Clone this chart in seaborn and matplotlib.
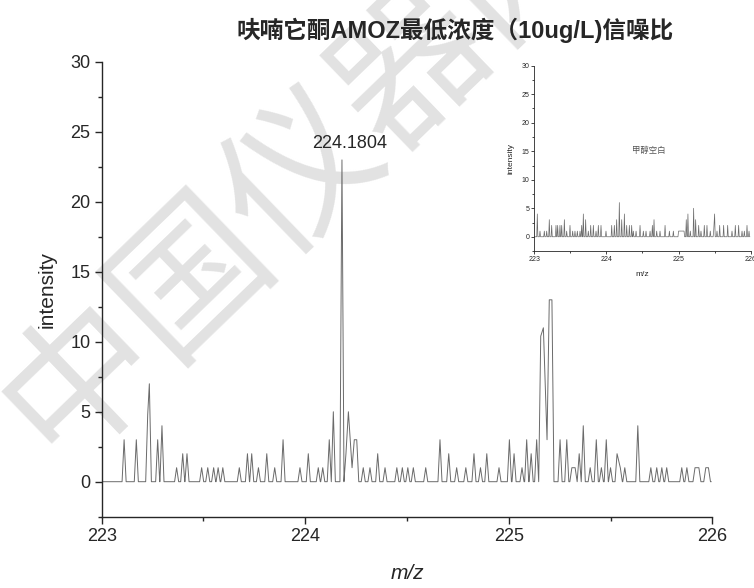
import numpy as np
import pandas as pd
import seaborn as sns
from matplotlib import pyplot as plt
from matplotlib.ticker import MultipleLocator

# sample spectrum (10 ug/L AMOZ): peak centre m/z and intensity
main_mz = [223.110, 223.170, 223.226, 223.234, 223.275, 223.296, 223.368, 223.398,
           223.419, 223.491, 223.521, 223.550, 223.572, 223.595, 223.676, 223.716,
           223.737, 223.770, 223.811, 223.850, 223.891, 223.974, 224.015, 224.064,
           224.086, 224.118, 224.138, 224.1804, 224.200, 224.212, 224.230, 224.241,
           224.253, 224.285, 224.318, 224.356, 224.392, 224.450, 224.477, 224.504,
           224.531, 224.592, 224.662, 224.705, 224.744, 224.789, 224.829, 224.861,
           224.892, 224.952, 225.003, 225.026, 225.065, 225.088, 225.110, 225.137,
           225.157, 225.170, 225.188, 225.199, 225.212, 225.252, 225.285, 225.310,
           225.326, 225.346, 225.366, 225.400, 225.430, 225.455, 225.479, 225.500,
           225.532, 225.548, 225.570, 225.634, 225.698, 225.727, 225.752, 225.776,
           225.850, 225.875, 225.915, 225.934, 225.968, 225.981]
main_int = [3, 3, 4.8, 7, 3, 4, 1, 2,
            2, 1, 1, 1, 1, 1, 1, 2,
            2, 1, 2, 1, 3, 1, 2, 1,
            1, 3, 5, 23, 2, 5, 1, 3,
            3, 1, 1, 2, 1, 1, 1, 1,
            1, 1, 3, 2, 1, 1, 2, 1,
            2, 1, 3, 2, 1, 3, 2, 3,
            10.4, 11, 3, 13, 13, 3, 3, 1,
            1, 2, 4, 1, 3, 1, 3, 1,
            2, 1, 1, 4, 1, 1, 1, 1,
            1, 1, 1, 1, 1, 1]

# methanol blank (inset)
blank_mz = [223.042, 223.079, 223.139, 223.172, 223.208, 223.241, 223.301, 223.324,
            223.356, 223.380, 223.417, 223.449, 223.495, 223.532, 223.564, 223.597,
            223.634, 223.657, 223.680, 223.712, 223.749, 223.782, 223.819, 223.856,
            223.888, 223.925, 223.994, 224.073, 224.110, 224.142, 224.179, 224.212,
            224.249, 224.281, 224.318, 224.350, 224.373, 224.411, 224.466, 224.512,
            224.549, 224.605, 224.637, 224.660, 224.697, 224.743, 224.813, 224.873,
            224.928, 225.000, 225.019, 225.038, 225.057, 225.076, 225.107, 225.130,
            225.163, 225.209, 225.237, 225.279, 225.311, 225.357, 225.394, 225.440,
            225.487, 225.500, 225.533, 225.570, 225.625, 225.681, 225.741, 225.787,
            225.833, 225.880, 225.912, 225.949, 225.977]
blank_int = [4, 1, 1, 1, 3, 2, 2, 2,
             2, 2, 3, 1, 2, 1, 1, 1,
             1, 2, 4, 3, 1, 2, 2, 1,
             2, 2, 1, 2, 2, 3, 6, 3,
             4, 2, 2, 2, 1, 1, 2, 1,
             1, 1, 2, 3, 1, 1, 2, 1,
             1, 1, 1, 1, 1, 1, 3, 4,
             1, 5, 3, 2, 1, 2, 2, 1,
             1, 4, 1, 2, 2, 2, 1, 2,
             2, 1, 1, 2, 1]

TITLE = "呋喃它酮AMOZ最低浓度（10ug/L)信噪比"
PEAK_LABEL = "224.1804"


def profile(mz, inten, lo, hi, half=0.01):
    """turn the peak list into a stick/profile trace, dropping to baseline between separated peaks"""
    xs, ys = [lo], [0.0]
    prev = None
    for m, h in zip(mz, inten):
        if prev is None or m - prev > 0.0195:
            if prev is not None:
                xs.append(prev + half); ys.append(0.0)
            xs.append(m - half); ys.append(0.0)
        xs.append(m); ys.append(h)
        prev = m
    xs += [prev + half, hi]
    ys += [0.0, 0.0]
    return pd.DataFrame({"mz": xs, "intensity": ys})


sns.set_style("ticks")
plt.rcParams["font.family"] = ["Liberation Sans", "Noto Sans CJK SC", "DejaVu Sans"]
plt.rcParams["axes.linewidth"] = 1.0

fig = plt.figure(figsize=(7.54, 5.88), dpi=100)

# watermark
fig.text(0.40, 0.715, "中国仪器网", rotation=44, rotation_mode="anchor", fontsize=110,
         color="#e2e2e2", ha="center", va="center", family=["Noto Sans CJK SC"],
         fontweight="normal", zorder=-5)

ax = fig.add_axes([0.1349, 0.1213, 0.8098, 0.7733])
ax.patch.set_alpha(0)
df = profile(main_mz, main_int, 223.0, 225.995)
sns.lineplot(data=df, x="mz", y="intensity", sort=False, estimator=None,
             color="#6a6a6a", linewidth=0.7, ax=ax)
ax.set_xlim(223, 226)
ax.set_ylim(-2.5, 30)
ax.xaxis.set_major_locator(MultipleLocator(1))
ax.xaxis.set_minor_locator(MultipleLocator(0.5))
ax.yaxis.set_major_locator(MultipleLocator(5))
ax.yaxis.set_minor_locator(MultipleLocator(2.5))
ax.tick_params(which="major", direction="out", length=5, width=1, labelsize=13, pad=3)
ax.tick_params(which="minor", direction="out", length=3, width=1)
sns.despine(ax=ax)
ax.set_xlabel("m/z", fontsize=15, fontstyle="italic", labelpad=14)
ax.set_ylabel("intensity", fontsize=15, labelpad=10)
ax.text(224.22, 24.2, PEAK_LABEL, fontsize=13, ha="center", va="center")

# inset: methanol blank
ins = fig.add_axes([0.7086, 0.5731, 0.287, 0.3151])
ins.patch.set_alpha(0)
dfb = profile(blank_mz, blank_int, 223.0, 225.99, half=0.008)
sns.lineplot(data=dfb, x="mz", y="intensity", sort=False, estimator=None,
             color="#6a6a6a", linewidth=0.5, ax=ins)
ins.set_xlim(223, 226)
ins.set_ylim(-2.5, 30)
ins.xaxis.set_major_locator(MultipleLocator(1))
ins.xaxis.set_minor_locator(MultipleLocator(0.5))
ins.yaxis.set_major_locator(MultipleLocator(5))
ins.yaxis.set_minor_locator(MultipleLocator(2.5))
ins.tick_params(which="major", direction="out", length=2, width=0.6, labelsize=5, pad=1.5)
ins.tick_params(which="minor", direction="out", length=1.2, width=0.6)
for s in ins.spines.values():
    s.set_linewidth(0.6)
sns.despine(ax=ins)
ins.set_xlabel("m/z", fontsize=6, labelpad=6)
ins.set_ylabel("intensity", fontsize=6, labelpad=5)
ins.text(224.59, 15.2, "甲醇空白", fontsize=6, color="#555555", ha="center", va="center",
         family=["Noto Sans CJK SC", "DejaVu Sans"])

fig.text(0.603, 0.948, TITLE, fontsize=17, fontweight="bold", ha="center", va="center",
         family=["Liberation Sans", "Noto Sans CJK SC"])

plt.savefig("out.png", dpi=100)
